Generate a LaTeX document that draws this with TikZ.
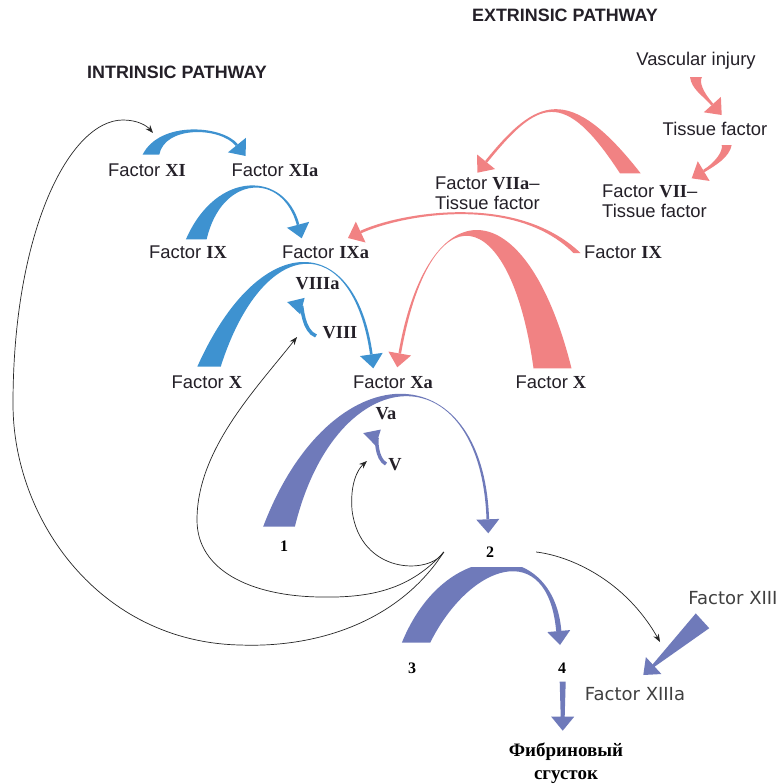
\documentclass[tikz,border=0pt]{standalone}
\usepackage{fontspec}
\setmainfont{Liberation Sans}
\newfontfamily\romfont{Liberation Serif}
\newfontfamily\widefont{DejaVu Sans}
\usetikzlibrary{calc}
\usetikzlibrary{arrows.meta}

\definecolor{intr}{RGB}{62,146,208}
\definecolor{extr}{RGB}{241,130,131}
\definecolor{comm}{RGB}{111,122,186}
\definecolor{ink}{RGB}{36,32,40}

\newcommand\rn[1]{{\romfont\bfseries #1}}
\newcommand\fct[1]{Factor \rn{#1}}
\newcommand\arrlen{14pt}
\newcommand\arrwid{11.5pt}
\newcommand\tipwid{1.3pt}

% [taper] colour, base, tip, rise, base width, lean, head angle
\newcommand\wedgeflow[8][0.22]{%
  \fill[#2] let \p1=(#3), \p2=(#4), \p3=($(#4)+(#8:\arrlen)$),
      \n1={sign(\x3-\x1)}, \n2={sign(#5)},
      \p4=($(\p3)+(#8:{abs(\y1+(#5)-\y3)})$),
      \p5=($(\p3)+({#8-(\n1)*(\n2)*90}:\tipwid)$),
      \p6=($(\p3)+({#8+(\n1)*(\n2)*90}:\tipwid)$),
      \p7=($(\p4)+({#8-(\n1)*(\n2)*90}:\tipwid)$),
      \p8=($(\p4)+({#8+(\n1)*(\n2)*90}:\tipwid)$)
    in ({\x1-(\n1)*#6/2},\y1)
      .. controls ({\x1-(\n1)*#6/2+#7*\x3-#7*\x1},{\y1+(#5)}) and (\p7) .. (\p5)
      -- (\p6)
      .. controls (\p8) and ({\x1+(\n1)*(#1-0.5)*#6+#7*\x3-#7*\x1},{\y1+(#5)-(\n2)*#1*#6}) .. ({\x1+(\n1)*#6/2},\y1)
      -- cycle;
  \fill[#2] (#4) -- ($(#4)+(#8:\arrlen)+({#8+90}:\arrwid)$)
    -- ($(#4)+(#8:\arrlen)+({#8-90}:\arrwid)$) -- cycle;
}

% colour, from, to, base half width, end half width
\newcommand\barflow[5]{%
  \fill[#1] let \p1=(#2), \p2=(#3), \n1={atan2(\y1-\y2,\x1-\x2)} in
    ($(\p1)+({\n1+90}:#4)$) -- ($(\p2)+(\n1:\arrlen)+({\n1+90}:#5)$)
    -- ($(\p2)+(\n1:\arrlen)+({\n1+90}:\arrwid)$) -- (\p2)
    -- ($(\p2)+(\n1:\arrlen)+({\n1-90}:\arrwid)$) -- ($(\p2)+(\n1:\arrlen)+({\n1-90}:#5)$)
    -- ($(\p1)+({\n1-90}:#4)$) -- cycle;
}

\tikzset{
  lbl/.style={font=\fontsize{18.4}{20}\selectfont, text=ink, inner sep=0pt},
  late/.style={font=\widefont\fontsize{18}{20}\selectfont, text=black!75, inner sep=0pt},
  title/.style={font=\fontsize{17.9}{20}\selectfont\bfseries, text=ink, inner sep=0pt},
  num/.style={font=\fontsize{16}{20}\selectfont\romfont\bfseries, text=black, inner sep=0pt},
  feed/.style={draw=black!85, line width=0.7pt, -{Stealth[length=8pt,width=6pt]}},
  curl/.style={line width=3.5pt, -{Triangle[length=16pt,width=16pt]}},
}

\begin{document}
\begin{tikzpicture}[x=1pt, y=-1pt]
  \useasboundingbox (0,0) rectangle (780,784);
  \fill[white] (0,0) rectangle (780,784);

  % ends of the flows
  \coordinate (b11) at (151,154.5);   \coordinate (t11) at (245.7,156);
  \coordinate (b9) at (196.3,239.3);  \coordinate (t9) at (301.7,238.3);
  \coordinate (b10) at (209,366.7);   \coordinate (t10) at (373.3,368.3);
  \coordinate (b10a) at (279,526.7);  \coordinate (t10a) at (488.3,533.3);
  \coordinate (b3) at (416,642.7);    \coordinate (t3) at (560,645);
  \coordinate (b7) at (630.3,173.3);  \coordinate (t7) at (477.3,172.7);
  \coordinate (b10r) at (552.5,368.3);\coordinate (t10r) at (397.3,367.3);
  \coordinate (b9r) at (577,253);     \coordinate (t9r) at (348,238);
  \coordinate (bvi) at (696,77);      \coordinate (tvi) at (721.7,115);
  \coordinate (btf) at (726.7,145);   \coordinate (ttf) at (691.7,178.3);
  \coordinate (b13) at (702.5,620.8); \coordinate (t13) at (643.3,675);
  \coordinate (b4) at (562.7,681.7);  \coordinate (t4) at (562.7,730.7);
  \coordinate (c8) at (316,336);      \coordinate (t8) at (287,302);
  \coordinate (c5) at (386,464);      \coordinate (t5) at (363,433);
  \coordinate (in11) at (153,133);
  \coordinate (in8) at (297,337);
  \coordinate (in5) at (367,461);
  \coordinate (in13) at (660,642);

  % intrinsic pathway
  \wedgeflow[0.3]{intr}{b11}{t11}{34}{16.6}{0.2}{129}
  \wedgeflow[0.25]{intr}{b9}{t9}{70}{20.7}{0.3}{105}
  \wedgeflow[0.18]{intr}{b10}{t10}{138}{23.4}{0.38}{98}
  \draw[intr, curl] (c8) .. controls (303,331) and (302,306) .. (t8);

  % extrinsic pathway
  \wedgeflow[0.6]{extr}{bvi}{tvi}{-12}{12}{0.1}{132}
  \wedgeflow[0.6]{extr}{btf}{ttf}{-12}{10}{0.1}{31}
  \wedgeflow[0.25]{extr}{b7}{t7}{92}{20.7}{0.5}{51}
  \wedgeflow[0.3]{extr}{b9r}{t9r}{62}{7}{0.3}{25}
  \wedgeflow[0.4]{extr}{b10r}{t10r}{183}{38}{0.3}{80}

  % common pathway
  \wedgeflow[0.2]{comm}{b10a}{t10a}{176}{31.7}{0.32}{92}
  \draw[comm, curl] (c5) .. controls (376,459) and (376,437) .. (t5);
  {\renewcommand\tipwid{2.6pt}
   \wedgeflow[0.9]{comm}{b3}{t3}{105.5}{28.3}{0.3}{95}}
  \barflow{comm}{b13}{t13}{10pt}{1.5pt}
  \barflow{comm}{b4}{t4}{3pt}{2pt}

  % labels
  \node[title] (ext) at (565,15) {EXTRINSIC PATHWAY};
  \node[title] (int) at (177,72) {INTRINSIC PATHWAY};
  \node[lbl] (vi) at (696,61) {Vascular injury};
  \node[lbl] (tf) at (715,129) {Tissue factor};
  \node[lbl, align=left, anchor=west] (f7) at (602,201) {\fct{VII}–\\Tissue factor};
  \node[lbl, align=left, anchor=west] (f7a) at (435,193) {\fct{VIIa}–\\Tissue factor};
  \node[lbl] (f9r) at (623,252) {\fct{IX}};
  \node[lbl] (f11) at (147,170) {\fct{XI}};
  \node[lbl] (f11a) at (275,170) {\fct{XIa}};
  \node[lbl] (f9) at (188,252) {\fct{IX}};
  \node[lbl] (f9a) at (325.5,252) {\fct{IXa}};
  \node[lbl] (f8a) at (317.5,284) {\rn{VIIIa}};
  \node[lbl] (f8) at (340,333) {\rn{VIII}};
  \node[lbl] (f10) at (207,382) {\fct{X}};
  \node[lbl] (f10a) at (393,382) {\fct{Xa}};
  \node[lbl] (f10r) at (551,382) {\fct{X}};
  \node[lbl] (f5a) at (386,414) {\rn{Va}};
  \node[lbl] (f5) at (395,465) {\rn{V}};
  \node[num] (n1) at (284,546) {1};
  \node[num, fill=white, minimum width=92pt, minimum height=30pt] (n2) at (490,552) {2};
  \node[num] (n3) at (412,668) {3};
  \node[num] (n4) at (562,668) {4};
  \node[late] (f13) at (733,598) {Factor XIII};
  \node[late] (f13a) at (635,694) {Factor XIIIa};
  \node[num, font=\fontsize{19}{23}\selectfont\romfont\bfseries, align=center] (clot) at (566,763) {Фибриновый\\сгусток};

  % feedback by thrombin
  \draw[feed] (n2.west) .. controls (400,620) and (320,648) .. (240,645)
    .. controls (100,642) and (13,520) .. (13,404)
    .. controls (13,230) and (70,120) .. (123,120)
    .. controls (138,120) and (147,126) .. (in11);
  \draw[feed] (n2.west) .. controls (410,590) and (370,598) .. (320,597)
    .. controls (250,596) and (197,570) .. (197,520)
    .. controls (197,450) and (255,390) .. (in8);
  \draw[feed] (n2.west) .. controls (430,575) and (360,575) .. (352,510)
    .. controls (350,485) and (357,470) .. (in5);
  \draw[feed] (n2.east) .. controls (570,556) and (625,580) .. (in13);
\end{tikzpicture}
\end{document}
